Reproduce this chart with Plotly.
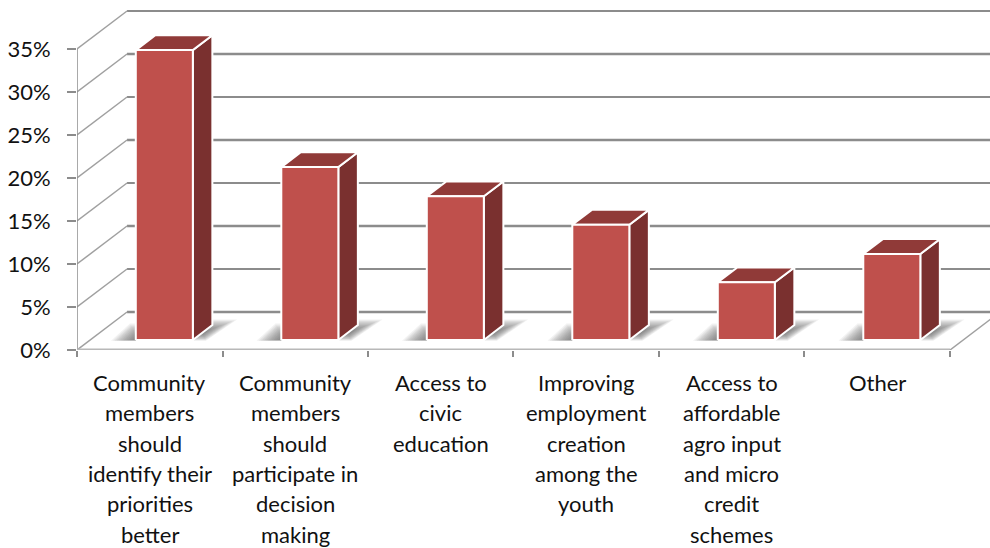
import plotly.graph_objects as go

# Chart data
category_lines = [
    ["Community", "members", "should", "identify their", "priorities", "better"],
    ["Community", "members", "should", "participate in", "decision", "making"],
    ["Access to", "civic", "education"],
    ["Improving", "employment", "creation", "among the", "youth"],
    ["Access to", "affordable", "agro input", "and micro", "credit", "schemes"],
    ["Other"],
]
values = [33.7, 20.1, 16.7, 13.4, 6.7, 10.0]
y_ticks = [0, 5, 10, 15, 20, 25, 30, 35]

# Oblique projection of the chart depth, expressed in axis units
DEPTH_X = 0.344
DEPTH_Y = 4.42
BAR_NEAR = 0.265
BAR_FAR = 0.655
BAR_SHIFT = 0.009
HALF_WIDTH = 0.196
X_MAX = 6.275
Y_MAX = 40.7

FONT = "Lato"
GRID = "#8c8c8c"
FRONT = "#BF504C"
SIDE = "#7A302F"
TOP = "#903A38"
SHADOW_LAYERS = 14
SHADOW_FILL = "rgba(70,70,70,0.07)"


def project(x, y, depth):
    return x + depth * DEPTH_X, y + depth * DEPTH_Y


def polygon(points, color, line_color="white", line_width=1.5):
    return go.Scatter(
        x=[p[0] for p in points] + [points[0][0]],
        y=[p[1] for p in points] + [points[0][1]],
        mode="lines", fill="toself", fillcolor=color,
        line=dict(color=line_color, width=line_width),
        hoverinfo="skip", showlegend=False, cliponaxis=False,
    )


def line(xs, ys, color=GRID, width=2):
    return go.Scatter(
        x=xs, y=ys, mode="lines", line=dict(color=color, width=width),
        hoverinfo="skip", showlegend=False, cliponaxis=False,
    )


def soft_shadow(points, anchor):
    # Translucent outlines shrinking toward the bar foot build up a soft edge
    traces = []
    for layer in range(SHADOW_LAYERS):
        scale = 1 - layer / SHADOW_LAYERS
        shrunk = [(anchor[0] + (p[0] - anchor[0]) * scale,
                   anchor[1] + (p[1] - anchor[1]) * scale) for p in points]
        traces.append(polygon(shrunk, SHADOW_FILL, "rgba(0,0,0,0)", 0))
    return traces


fig = go.Figure()

# Wall gridlines and their diagonal returns on the side wall
for tick in y_ticks:
    bx, by = project(0, tick, 1)
    fig.add_trace(line([bx, X_MAX], [by, by], width=2 if tick % 10 else 2.5))
    fig.add_trace(line([0, bx], [tick, by], color="#a0a0a0", width=1.5))

# Value axis and floor edges
fig.add_trace(line([0, 0], [0, 35], color="#8c8c8c", width=1.5))
fig.add_trace(line([0, 6], [0, 0], color="#b8b8b8", width=3))
ex, ey = project(6, 0, 1)
fig.add_trace(line([6, ex], [0, ey], color="#a0a0a0", width=1.5))

# Bars, drawn from each value in the axis coordinates
for i, value in enumerate(values):
    left = i + 0.5 + BAR_SHIFT - HALF_WIDTH
    right = i + 0.5 + BAR_SHIFT + HALF_WIDTH

    fl = project(left, 0, BAR_NEAR)
    fr = project(right, 0, BAR_NEAR)
    br = project(right, 0, BAR_FAR)
    tl = project(left, value, BAR_NEAR)
    tr = project(right, value, BAR_NEAR)
    btr = project(right, value, BAR_FAR)
    btl = project(left, value, BAR_FAR)

    # Floor shadows on both sides of the bar foot
    fig.add_traces(soft_shadow(
        [(fl[0] - 0.17, fl[1] - 0.1), (fl[0] + 0.02, fl[1] - 0.1),
         (fl[0] + 0.02, fl[1] + 1.9), (fl[0] - 0.04, fl[1] + 1.9)],
        (fl[0] + 0.01, fl[1]),
    ))
    fig.add_traces(soft_shadow(
        [(fr[0] - 0.02, fr[1] - 0.1), (fr[0] + 0.09, fr[1] - 0.1),
         (br[0] + 0.17, br[1] + 0.65), (br[0] - 0.02, br[1] + 0.65)],
        ((fr[0] + br[0]) / 2, (fr[1] + br[1]) / 2),
    ))
    fig.add_trace(polygon([fr, br, btr, tr], SIDE, line_width=2))
    fig.add_trace(polygon([tl, tr, btr, btl], TOP, line_width=2))
    fig.add_trace(polygon([fl, fr, tr, tl], FRONT, line_width=2))

fig.update_layout(
    width=990, height=548,
    margin=dict(l=77, r=0, t=0, b=198),
    paper_bgcolor="white", plot_bgcolor="white",
    font=dict(family=FONT, color="#111111", size=22),
    showlegend=False,
    xaxis=dict(
        range=[0, X_MAX], tickmode="array", tickvals=list(range(7)),
        ticktext=[""] * 7, ticks="outside", ticklen=6, tickwidth=2,
        tickcolor=GRID, showgrid=False, zeroline=False, showline=False,
    ),
    yaxis=dict(
        range=[0, Y_MAX], tickmode="array", tickvals=y_ticks,
        ticktext=[f"{t}%" for t in y_ticks], ticks="outside", ticklen=9,
        tickwidth=2, tickcolor=GRID, showgrid=False, zeroline=False,
        showline=False, ticklabelstandoff=12,
        tickfont=dict(family=FONT, size=22, color="#111111"),
    ),
)

# Category labels, one annotation per wrapped line for the tall line spacing
LINE_START = 32.5
LINE_STEP = 30.3
for i, lines in enumerate(category_lines):
    for n, text in enumerate(lines):
        fig.add_annotation(
            x=i + 0.5, y=0, xref="x", yref="paper", text=text, showarrow=False,
            yanchor="middle", yshift=-(LINE_START + n * LINE_STEP),
            font=dict(family=FONT, size=22, color="#111111"),
        )

fig.write_html("out.html")
